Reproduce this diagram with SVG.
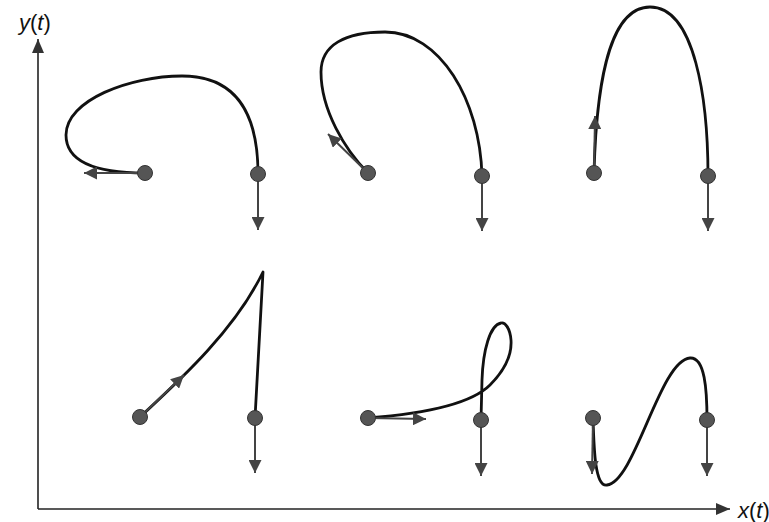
<svg xmlns="http://www.w3.org/2000/svg" width="769" height="522" viewBox="0 0 769 522">
<style>
.axis{stroke:#222;stroke-width:1.6;fill:none}
.curve{stroke:#111;stroke-width:2.8;fill:none;stroke-linecap:round;stroke-linejoin:round}
.vec{stroke:#444;stroke-width:2;fill:none}
.dot{fill:#555;stroke:#333;stroke-width:1}
.lbl{font-family:"Liberation Sans",Arial,sans-serif;font-size:22px;fill:#111}
</style>
<defs>
<marker id="ah" markerUnits="userSpaceOnUse" markerWidth="13" markerHeight="13" refX="13" refY="6.5" orient="auto">
<path d="M0,0 L13,6.5 L0,13 z" fill="#444"/>
</marker>
<marker id="axh" markerUnits="userSpaceOnUse" markerWidth="14" markerHeight="12" refX="14" refY="6" orient="auto">
<path d="M0,0 L14,6 L0,12 z" fill="#333"/>
</marker>
</defs>
<g id="axes">
<line class="axis" x1="38" y1="509" x2="38" y2="39" marker-end="url(#axh)"/>
<line class="axis" x1="38" y1="509" x2="730" y2="509" marker-end="url(#axh)"/>
<text class="lbl" x="19" y="30"><tspan font-style="italic">y</tspan>(<tspan font-style="italic">t</tspan>)</text>
<text class="lbl" x="738" y="518"><tspan font-style="italic">x</tspan>(<tspan font-style="italic">t</tspan>)</text>
</g>
<g id="connectors">
<path class="curve" d="M145,173 C110,173 66,168 66,135 C66,100 130,76 182,76 C237,76 258,115 258,174"/>
<path class="curve" d="M368,173 C345,150 321,110 321,72 C321,45 345,32 385,32 C440,32 480,100 482,176"/>
<path class="curve" d="M594,173 C596,100 605,7 650,7 C695,7 708,100 708,176"/>
<path class="curve" d="M140,417 C180,380 235,330 263,272 L255,418"/>
<path class="curve" d="M368,418 C420,414 470,405 490,385 C505,370 512,355 511,340 C510,328 505,322 501,323 C490,325 483,350 482,380 L481,420"/>
<path class="curve" d="M593,418 C594,450 595,487 607,485 C635,482 660,360 690,358 C705,357 707,390 707,420"/>
<line class="vec" x1="145" y1="173" x2="84" y2="173" marker-end="url(#ah)"/>
<line class="vec" x1="258" y1="174" x2="258" y2="230" marker-end="url(#ah)"/>
<line class="vec" x1="368" y1="173" x2="328" y2="134" marker-end="url(#ah)"/>
<line class="vec" x1="482" y1="176" x2="482" y2="231" marker-end="url(#ah)"/>
<line class="vec" x1="594" y1="173" x2="595" y2="116" marker-end="url(#ah)"/>
<line class="vec" x1="708" y1="176" x2="708" y2="231" marker-end="url(#ah)"/>
<line class="vec" x1="140" y1="417" x2="184" y2="375" marker-end="url(#ah)"/>
<line class="vec" x1="255" y1="418" x2="255" y2="473" marker-end="url(#ah)"/>
<line class="vec" x1="368" y1="418" x2="426" y2="419" marker-end="url(#ah)"/>
<line class="vec" x1="481" y1="420" x2="481" y2="476" marker-end="url(#ah)"/>
<line class="vec" x1="593" y1="418" x2="592" y2="474" marker-end="url(#ah)"/>
<line class="vec" x1="707" y1="420" x2="707" y2="476" marker-end="url(#ah)"/>
</g>
<g id="p1-start"><circle class="dot" cx="145" cy="173" r="7.5"/></g>
<g id="p1-end"><circle class="dot" cx="258" cy="174" r="7.5"/></g>
<g id="p2-start"><circle class="dot" cx="368" cy="173" r="7.5"/></g>
<g id="p2-end"><circle class="dot" cx="482" cy="176" r="7.5"/></g>
<g id="p3-start"><circle class="dot" cx="594" cy="173" r="7.5"/></g>
<g id="p3-end"><circle class="dot" cx="708" cy="176" r="7.5"/></g>
<g id="p4-start"><circle class="dot" cx="140" cy="417" r="7.5"/></g>
<g id="p4-end"><circle class="dot" cx="255" cy="418" r="7.5"/></g>
<g id="p5-start"><circle class="dot" cx="368" cy="418" r="7.5"/></g>
<g id="p5-end"><circle class="dot" cx="481" cy="420" r="7.5"/></g>
<g id="p6-start"><circle class="dot" cx="593" cy="418" r="7.5"/></g>
<g id="p6-end"><circle class="dot" cx="707" cy="420" r="7.5"/></g>
</svg>
